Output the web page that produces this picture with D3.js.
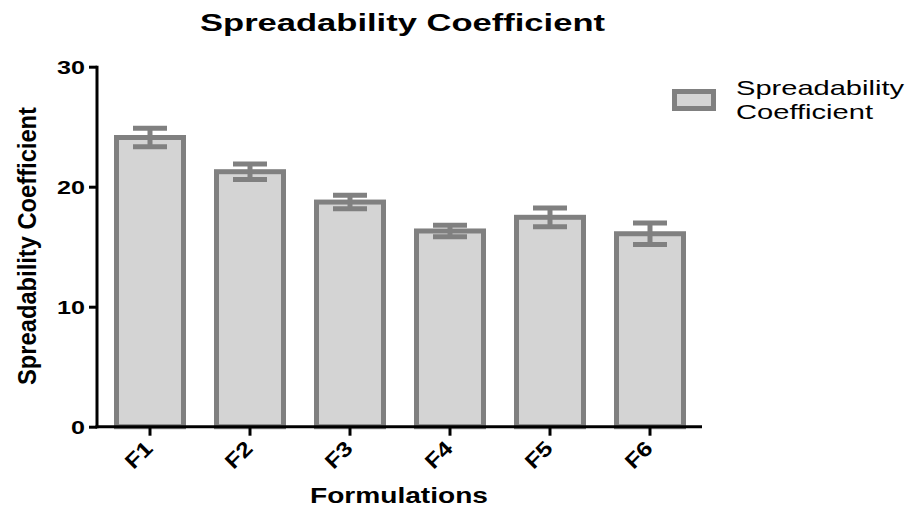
<!DOCTYPE html>
<html lang="en">
<head>
<meta charset="utf-8">
<script src="https://d3js.org/d3.v7.min.js"></script>
<style>
  body { margin: 0; background: #fff; }
  text { font-family: "Liberation Sans", Arial, sans-serif; }
</style>
</head>
<body>
<script>
// Data
var formulations = ["F1", "F2", "F3", "F4", "F5", "F6"];
var means = [24.1, 21.25, 18.72, 16.31, 17.45, 16.08];
var errors = [0.78, 0.64, 0.56, 0.48, 0.78, 0.89];
var yTicks = [0, 10, 20, 30];

var w = 912, h = 512;

var svg = d3.select("body").append("svg")
    .attr("width", w)
    .attr("height", h);

// Scales
var x = d3.scaleBand()
    .domain(formulations)
    .range([100, 700])
    .paddingInner(0.33)
    .paddingOuter(0.165);

var y = d3.scaleLinear()
    .domain([0, 30])
    .range([426.7, 66.7]);

// Bars
svg.selectAll("rect.bar")
    .data(formulations)
    .enter().append("rect")
    .attr("class", "bar")
    .attr("x", function(d) { return x(d); })
    .attr("width", x.bandwidth())
    .attr("y", function(d, i) { return y(means[i]); })
    .attr("height", function(d, i) { return y(0) - y(means[i]); })
    .attr("fill", "#d4d4d4")
    .attr("stroke", "#808080")
    .attr("stroke-width", 5);

// Error bars
var eb = svg.selectAll("g.err")
    .data(formulations)
    .enter().append("g")
    .attr("class", "err")
    .attr("stroke", "#808080")
    .attr("stroke-width", 5);

eb.append("line")
    .attr("x1", function(d) { return x(d) + x.bandwidth() / 2; })
    .attr("x2", function(d) { return x(d) + x.bandwidth() / 2; })
    .attr("y1", function(d, i) { return y(means[i] + errors[i]); })
    .attr("y2", function(d, i) { return y(means[i] - errors[i]); });

[1, -1].forEach(function(s) {
  eb.append("line")
      .attr("x1", function(d) { return x(d) + x.bandwidth() / 2 - 17; })
      .attr("x2", function(d) { return x(d) + x.bandwidth() / 2 + 17; })
      .attr("y1", function(d, i) { return y(means[i] + s * errors[i]); })
      .attr("y2", function(d, i) { return y(means[i] + s * errors[i]); });
});

// Y axis
var yAxis = svg.append("g")
    .attr("transform", "translate(97,0)")
    .call(d3.axisLeft(y).tickValues(yTicks).tickSize(8).tickSizeOuter(0).tickPadding(4));
yAxis.select(".domain").attr("stroke", "#000").attr("stroke-width", 3)
    .attr("d", "M0," + (y(30) - 1) + "V" + (y(0) + 1.5));
yAxis.selectAll(".tick line").attr("stroke", "#000").attr("stroke-width", 3);
yAxis.selectAll(".tick text")
    .attr("font-family", "'Liberation Sans', Arial, sans-serif")
    .attr("font-size", 19)
    .attr("font-weight", "bold")
    .attr("fill", "#000")
    .attr("x", -12)
    .attr("dy", "0.36em")
    .attr("textLength", function(d) { return String(d).length * 14; })
    .attr("lengthAdjust", "spacingAndGlyphs");

// X axis
var xAxis = svg.append("g")
    .attr("transform", "translate(0," + y(0) + ")")
    .call(d3.axisBottom(x).tickSize(9).tickSizeOuter(0));
xAxis.select(".domain").attr("stroke", "#000").attr("stroke-width", 3)
    .attr("d", "M95.5,0H702");
xAxis.selectAll(".tick line").attr("stroke", "#000").attr("stroke-width", 3);
xAxis.selectAll(".tick text")
    .attr("font-family", "'Liberation Sans', Arial, sans-serif")
    .attr("font-size", 21)
    .attr("font-weight", "bold")
    .attr("fill", "#000")
    .attr("text-anchor", "end")
    .attr("y", 0)
    .attr("dy", 0)
    .attr("textLength", 29)
    .attr("lengthAdjust", "spacingAndGlyphs")
    .attr("transform", "translate(4,23) rotate(-45)");

// Title
svg.append("text")
    .attr("x", 402.5)
    .attr("y", 31)
    .attr("text-anchor", "middle")
    .attr("font-size", 23)
    .attr("font-weight", "bold")
    .attr("textLength", 405)
    .attr("lengthAdjust", "spacingAndGlyphs")
    .text("Spreadability Coefficient");

// Y axis label
svg.append("text")
    .attr("transform", "translate(36,246) rotate(-90)")
    .attr("text-anchor", "middle")
    .attr("font-size", 26)
    .attr("font-weight", "bold")
    .attr("textLength", 278)
    .attr("lengthAdjust", "spacingAndGlyphs")
    .text("Spreadability Coefficient");

// X axis label
svg.append("text")
    .attr("x", 399)
    .attr("y", 503)
    .attr("text-anchor", "middle")
    .attr("font-size", 22)
    .attr("font-weight", "bold")
    .attr("textLength", 178)
    .attr("lengthAdjust", "spacingAndGlyphs")
    .text("Formulations");

// Legend
var lg = svg.append("g");
lg.append("rect")
    .attr("x", 674.5)
    .attr("y", 91.5)
    .attr("width", 39)
    .attr("height", 17)
    .attr("fill", "#d4d4d4")
    .attr("stroke", "#808080")
    .attr("stroke-width", 5);
lg.append("text")
    .attr("x", 736)
    .attr("y", 95)
    .attr("font-size", 21)
    .attr("textLength", 168)
    .attr("lengthAdjust", "spacingAndGlyphs")
    .text("Spreadability");
lg.append("text")
    .attr("x", 736)
    .attr("y", 119)
    .attr("font-size", 21)
    .attr("textLength", 137)
    .attr("lengthAdjust", "spacingAndGlyphs")
    .text("Coefficient");
</script>
</body>
</html>
